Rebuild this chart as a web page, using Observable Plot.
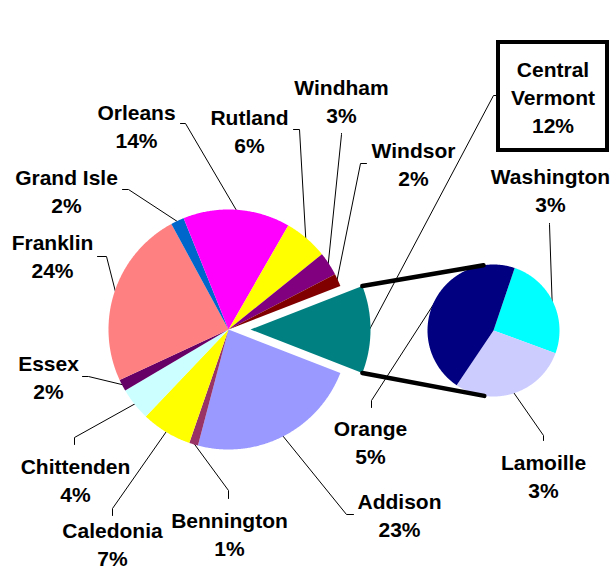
<!DOCTYPE html>
<html><head><meta charset="utf-8">
<script src="https://cdn.jsdelivr.net/npm/d3@7"></script>
<script src="https://cdn.jsdelivr.net/npm/@observablehq/plot@0.6"></script>
<style>body{margin:0;background:#fff}</style>
</head><body><div id="chart"></div>
<script>
// ---- data ----
const mainNames = ["Central Vermont","Addison","Bennington","Caledonia","Chittenden","Essex","Franklin","Grand Isle","Orleans","Rutland","Windham","Windsor"];
const mainShares = [11.8,23.2,1.2,6.8,4.4,1.6,24.0,1.8,14.4,5.9,3.2,1.7];
const mainColors = ["#008080","#9999FF","#993366","#FFFF00","#CCFFFF","#660066","#FF8080","#0066CC","#FF00FF","#FFFF00","#800080","#800000"];
const subNames = ["Washington","Lamoille","Orange"];
const subShares = [3.0,3.4,5.4];
const subColors = ["#00FFFF","#CCCCFF","#000080"];

// ---- layout ----
const W = 613, H = 571;
const MAIN = {cx: 228, cy: 329, r: 120, explode: 22};
const SUB = {cx: 493, cy: 330, r: 66, start: 18.7};
const FONT = 21;
// label centre x, middle y, leader elbow and end points
const labelLayout = {
  "Orleans":        {x: 136, y: 124.6, elbow: [185,123], end: [180,123]},
  "Rutland":        {x: 249, y: 130,   elbow: [299,129], end: [293,129]},
  "Windham":        {x: 341, y: 99.6,  elbow: [341,134], end: [341,133]},
  "Windsor":        {x: 413, y: 163,   elbow: [360,163], end: [366,163]},
  "Central Vermont":{x: 552.5, y: 95.6, elbow: [493,95], end: [498,95], wrap: true, box: [498,42,607,150]},
  "Washington":     {x: 550, y: 189,   elbow: [549,224], end: [549,223]},
  "Grand Isle":     {x: 66,  y: 190,   elbow: [128,189], end: [122,189]},
  "Franklin":       {x: 52,  y: 254.6, elbow: [106,256], end: [97,256]},
  "Essex":          {x: 48,  y: 375.6, elbow: [88,376],  end: [82,376]},
  "Chittenden":     {x: 75,  y: 479,   elbow: [74,437],  end: [74,444]},
  "Caledonia":      {x: 112, y: 543,   elbow: [112,508], end: [112,515]},
  "Bennington":     {x: 229, y: 532.6, elbow: [228,490], end: [228,498]},
  "Addison":        {x: 399, y: 514,   elbow: [346,514], end: [353,514]},
  "Orange":         {x: 370, y: 441,   elbow: [371,400], end: [371,407]},
  "Lamoille":       {x: 543, y: 474.6, elbow: [543,435], end: [543,440]}
};

const rad = a => a * Math.PI / 180;
const pt = (cx, cy, r, a) => [cx + r * Math.sin(rad(a)), cy - r * Math.cos(rad(a))];

// build slices (compass angles, clockwise from 12 o'clock)
const slices = [];
{
  let a = 90 - mainShares[0] * 3.6 / 2;
  mainNames.forEach((name, i) => {
    const a0 = a, a1 = a + mainShares[i] * 3.6; a = a1;
    const mid = (a0 + a1) / 2;
    const off = i === 0 ? MAIN.explode : 0;
    const [cx, cy] = pt(MAIN.cx, MAIN.cy, off, mid);
    slices.push({name, share: mainShares[i], a0, a1, mid, cx, cy, r: MAIN.r});
  });
}
{
  let a = SUB.start;
  subNames.forEach((name, i) => {
    const a0 = a, a1 = a + subShares[i] / d3.sum(subShares) * 360; a = a1;
    slices.push({name, share: subShares[i], a0, a1, mid: (a0 + a1) / 2, cx: SUB.cx, cy: SUB.cy, r: SUB.r});
  });
}

const polyPts = [];
for (const s of slices) {
  polyPts.push({name: s.name, x: s.cx, y: s.cy});
  const n = Math.max(4, Math.ceil((s.a1 - s.a0) / 0.5));
  for (let k = 0; k <= n; k++) {
    const [x, y] = pt(s.cx, s.cy, s.r, s.a0 + (s.a1 - s.a0) * k / n);
    polyPts.push({name: s.name, x, y});
  }
}

// connector lines from exploded slice to secondary pie
const cv = slices[0];
const cTop = pt(cv.cx, cv.cy, cv.r, cv.a0), cBot = pt(cv.cx, cv.cy, cv.r, cv.a1);
const sTop = pt(SUB.cx, SUB.cy, SUB.r, -8.7), sBot = pt(SUB.cx, SUB.cy, SUB.r, 188);
const connectors = [
  {g: "top", x: cTop[0], y: cTop[1]}, {g: "top", x: sTop[0], y: sTop[1]},
  {g: "bot", x: cBot[0], y: cBot[1]}, {g: "bot", x: sBot[0], y: sBot[1]}
];

// leader lines
const leaders = [];
const labels = [];
for (const s of slices) {
  const L = labelLayout[s.name];
  if (!L) continue;
  const rim = pt(s.cx, s.cy, s.r - 1, s.mid);
  leaders.push({name: s.name, x: rim[0], y: rim[1]});
  leaders.push({name: s.name, x: L.elbow[0], y: L.elbow[1]});
  leaders.push({name: s.name, x: L.end[0], y: L.end[1]});
  const nm = L.wrap ? s.name.replace(" ", "\n") : s.name;
  labels.push({name: s.name, x: L.x, y: L.y, text: nm + "\n" + Math.round(s.share) + "%"});
}
const boxes = Object.entries(labelLayout).filter(([k, v]) => v.box).map(([k, v]) => ({x1: v.box[0], y1: v.box[1], x2: v.box[2], y2: v.box[3]}));

const chart = Plot.plot({
  width: W, height: H, margin: 0,
  x: {domain: [0, W], axis: null},
  y: {domain: [0, H], reverse: true, axis: null},
  color: {domain: [...mainNames, ...subNames], range: [...mainColors, ...subColors]},
  style: {fontFamily: "'Liberation Sans', Arial, sans-serif", background: "#fff"},
  marks: [
    Plot.line(leaders, {x: "x", y: "y", z: "name", stroke: "#000", strokeWidth: 1}),
    Plot.line(polyPts, {x: "x", y: "y", z: "name", fill: "name", stroke: null}),
    Plot.line(connectors, {x: "x", y: "y", z: "g", stroke: "#000", strokeWidth: 4.5, strokeLinecap: "round"}),
    Plot.rect(boxes, {x1: "x1", y1: "y1", x2: "x2", y2: "y2", fill: "#fff", stroke: "#000", strokeWidth: 4}),
    Plot.text(labels, {x: "x", y: "y", text: "text", fontSize: FONT, fontWeight: "bold", lineHeight: 1.333, textAnchor: "middle", lineAnchor: "middle", fill: "#000"})
  ]
});
document.getElementById("chart").appendChild(chart);
</script>
</body></html>
